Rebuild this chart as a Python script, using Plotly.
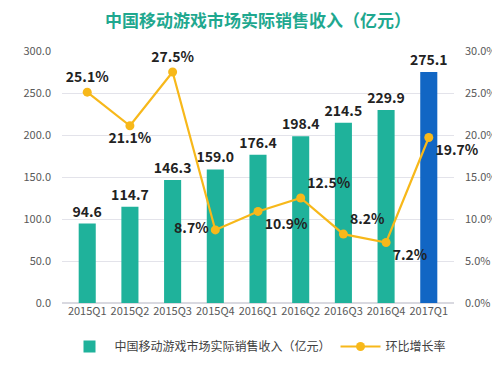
import plotly.graph_objects as go

categories = ["2015Q1", "2015Q2", "2015Q3", "2015Q4", "2016Q1", "2016Q2", "2016Q3", "2016Q4", "2017Q1"]
revenue = [94.6, 114.7, 146.3, 159.0, 176.4, 198.4, 214.5, 229.9, 275.1]
growth = [25.1, 21.1, 27.5, 8.7, 10.9, 12.5, 8.2, 7.2, 19.7]
growth_pos = ["top center", "bottom center", "top center", "middle left", "bottom right",
              "top right", "top right", "bottom right", "bottom right"]
bar_colors = ["#1fb29b"] * 8 + ["#1166c4"]

FONT = "Noto Sans CJK SC"
fig = go.Figure()
fig.add_trace(go.Bar(
    x=categories, y=revenue, name="中国移动游戏市场实际销售收入（亿元）",
    marker=dict(color=bar_colors, line=dict(width=0)),
    text=[f"{v:.1f}" for v in revenue], textposition="outside",
    constraintext="none",
    textfont=dict(family=FONT, size=14, color="#222222", weight="bold"),
    width=0.4, cliponaxis=False,
))
fig.add_trace(go.Scatter(
    x=categories, y=growth, name="环比增长率", yaxis="y2",
    mode="lines+markers+text",
    line=dict(color="#f7b81a", width=2.2),
    marker=dict(color="#f7b81a", size=9),
    text=[f"{v:.1f}%" for v in growth], textposition=growth_pos,
    textfont=dict(family=FONT, size=14, color="#222222", weight="bold"),
    cliponaxis=False,
))

fig.update_layout(
    width=500, height=365,
    margin=dict(l=54, r=54, t=43, b=54),
    paper_bgcolor="white", plot_bgcolor="white",
    title=dict(text="<b>中国移动游戏市场实际销售收入（亿元）</b>", x=0.5, xanchor="center",
               y=0.965, yanchor="middle",
               font=dict(family=FONT, size=17, color="#1fa88f")),
    font=dict(family=FONT, size=11, color="#595959"),
    showlegend=True,
    legend=dict(orientation="h", x=0.5, xanchor="center", y=-0.115, yanchor="top",
                font=dict(family=FONT, size=12, color="#404040"), itemwidth=40),
    xaxis=dict(tickfont=dict(family=FONT, size=11, color="#595959"), showline=False,
               ticks="", showgrid=False),
    yaxis=dict(range=[0, 300], dtick=50, tickformat=".1f", gridcolor="#e3e3ea",
               zeroline=True, zerolinecolor="#d9d9e0", ticks="", ticklabelstandoff=10,
               tickfont=dict(family=FONT, size=11, color="#595959")),
    yaxis2=dict(range=[0, 30], dtick=5, overlaying="y", side="right", showgrid=False,
                ticksuffix="%", tickformat=".1f", ticks="", ticklabelstandoff=10,
                tickfont=dict(family=FONT, size=11, color="#595959"), zeroline=False),
)
fig.write_html("out.html")
